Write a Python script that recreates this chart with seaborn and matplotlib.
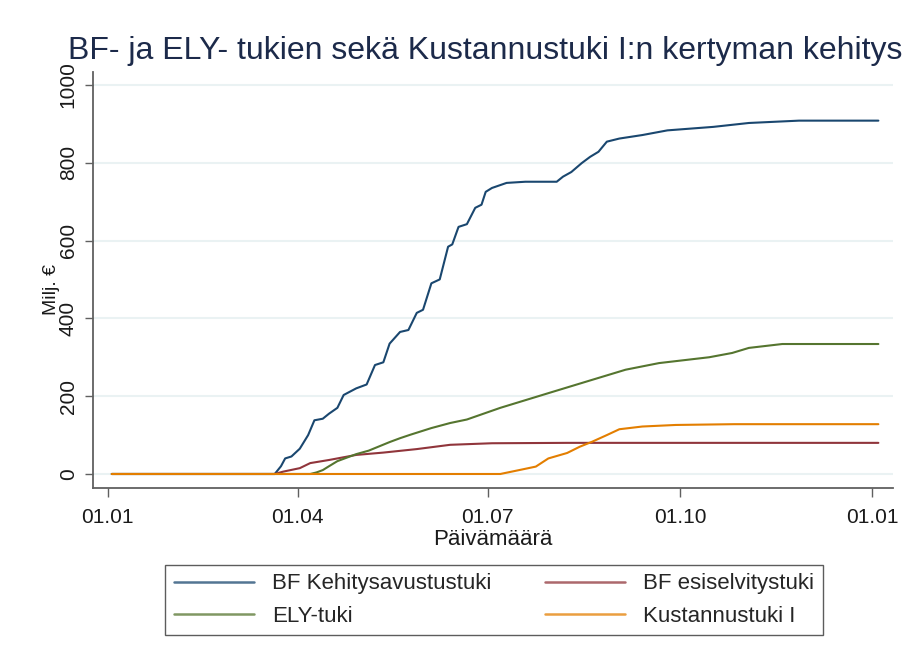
import matplotlib
matplotlib.use("Agg")
import matplotlib.pyplot as plt
import seaborn as sns
import pandas as pd

# ---- data ----
blue_dates = ["2020-01-03", "2020-03-21", "2020-03-24", "2020-03-26", "2020-03-29", "2020-04-02",
              "2020-04-06", "2020-04-09", "2020-04-13", "2020-04-16", "2020-04-20", "2020-04-23",
              "2020-04-29", "2020-05-04", "2020-05-08", "2020-05-12", "2020-05-15", "2020-05-20",
              "2020-05-24", "2020-05-28", "2020-05-31", "2020-06-04", "2020-06-08", "2020-06-12",
              "2020-06-14", "2020-06-17", "2020-06-21", "2020-06-25", "2020-06-28", "2020-06-30",
              "2020-07-03", "2020-07-10", "2020-07-19", "2020-08-03", "2020-08-06", "2020-08-10",
              "2020-08-15", "2020-08-19", "2020-08-23", "2020-08-27", "2020-09-02", "2020-09-13",
              "2020-09-25", "2020-10-17", "2020-11-03", "2020-11-27", "2021-01-04"]
blue_values = [0, 0, 20, 40, 45, 65, 100, 138, 142, 155, 170, 203, 220, 230, 280, 287, 335, 365,
               370, 414, 422, 490, 500, 584, 590, 635, 642, 684, 692, 725, 735, 748, 751, 751,
               764, 776, 799, 815, 828, 854, 862, 871, 883, 892, 902, 908, 908]

red_dates = ["2020-01-03", "2020-03-21", "2020-03-25", "2020-04-02", "2020-04-07", "2020-04-16",
             "2020-04-29", "2020-05-12", "2020-05-28", "2020-06-13", "2020-07-03", "2020-08-08",
             "2021-01-04"]
red_values = [0, 0, 6, 15, 28, 36, 49, 55, 64, 75, 79, 80, 80]

green_dates = ["2020-01-03", "2020-04-07", "2020-04-10", "2020-04-13", "2020-04-16", "2020-04-20",
               "2020-04-29", "2020-05-05", "2020-05-15", "2020-05-20", "2020-05-25", "2020-06-04",
               "2020-06-13", "2020-06-21", "2020-07-07", "2020-08-01", "2020-08-20", "2020-09-05",
               "2020-09-21", "2020-10-15", "2020-10-26", "2020-11-03", "2020-11-19", "2021-01-04"]
green_values = [0, 0, 4, 10, 20, 33, 51, 60, 82, 92, 101, 118, 131, 140, 170, 211, 242, 268,
                285, 300, 311, 324, 334, 334]

orange_dates = ["2020-01-03", "2020-07-07", "2020-07-16", "2020-07-24", "2020-07-30", "2020-08-08",
                "2020-08-14", "2020-08-20", "2020-08-27", "2020-09-02", "2020-09-13", "2020-09-29",
                "2020-10-27", "2021-01-04"]
orange_values = [0, 0, 10, 19, 40, 54, 70, 83, 100, 115, 122, 126, 128, 128]

series_names = ["BF Kehitysavustustuki", "BF esiselvitystuki", "ELY-tuki", "Kustannustuki I"]
series_colors = ["#1a476f", "#90353b", "#55752f", "#e37e00"]

tick_dates = ["2020-01-01", "2020-04-01", "2020-07-01", "2020-10-01", "2021-01-01"]
tick_labels = ["01.01", "01.04", "01.07", "01.10", "01.01"]
y_ticks = [0, 200, 400, 600, 800, 1000]

title = "BF- ja ELY- tukien sekä Kustannustuki I:n kertyman kehitys"
xlabel = "Päivämäärä"
ylabel = "Milj. €"

# ---- build table ----
frames = []
for name, d, v in zip(series_names,
                      [blue_dates, red_dates, green_dates, orange_dates],
                      [blue_values, red_values, green_values, orange_values]):
    frames.append(pd.DataFrame({"date": pd.to_datetime(d), "value": v, "series": name}))
df = pd.concat(frames, ignore_index=True)

sns.set_theme(style="white")
plt.rcParams["font.family"] = ["Liberation Sans", "DejaVu Sans"]

fig = plt.figure(figsize=(9.10, 6.64), dpi=100)
fig.patch.set_facecolor("white")
ax = fig.add_axes([93 / 910, 1 - 488 / 664, 800 / 910, 416 / 664])

sns.lineplot(data=df, x="date", y="value", hue="series", hue_order=series_names,
             palette=dict(zip(series_names, series_colors)), estimator=None, sort=False,
             linewidth=1.5, ax=ax, legend=False)

ax.set_xlim(pd.Timestamp("2019-12-25"), pd.Timestamp("2021-01-11"))
ax.set_ylim(-36, 1033)
ax.set_xticks(pd.to_datetime(tick_dates))
ax.set_xticklabels(tick_labels)
ax.set_yticks(y_ticks)
ax.set_yticklabels([str(v) for v in y_ticks], rotation=90, va="center")

ax.grid(axis="y", color="#eaf2f3", linewidth=1.5)
ax.grid(axis="x", visible=False)
ax.set_axisbelow(True)
for s in ["top", "right"]:
    ax.spines[s].set_visible(False)
for s in ["left", "bottom"]:
    ax.spines[s].set_color("#606060")
    ax.spines[s].set_linewidth(1.3)

ax.tick_params(axis="x", which="major", direction="out", length=6.5, width=1, color="#606060",
               labelsize=15, pad=8, labelcolor="#1a1a1a", bottom=True)
ax.tick_params(axis="y", which="major", direction="out", length=6, width=1, color="#606060",
               labelsize=15, pad=5, labelcolor="#1a1a1a", left=True)

ax.set_xlabel(xlabel, fontsize=16, color="#1a1a1a", labelpad=1)
ax.set_ylabel(ylabel, fontsize=14, color="#1a1a1a")
ax.yaxis.set_label_coords(-0.041, 0.476)

fig.text(68 / 910, 1 - 59 / 664, title, fontsize=23, color="#1c2a4a", ha="left", va="baseline")

# legend
handles = [plt.Line2D([], [], color=c, linewidth=1.8, alpha=0.75) for c in series_colors]
order = [0, 2, 1, 3]
leg = fig.legend([handles[i] for i in order], [series_names[i] for i in order],
                 ncol=2, loc="center", bbox_to_anchor=(494 / 910, 1 - 600 / 664),
                 frameon=True, fancybox=False, edgecolor="#333333", fontsize=16,
                 handlelength=3.6, columnspacing=2.4, handletextpad=0.8, borderpad=0.4,
                 labelspacing=0.5, borderaxespad=0)
leg.get_frame().set_linewidth(1.0)

fig.savefig("out.png", dpi=100, facecolor="white")
